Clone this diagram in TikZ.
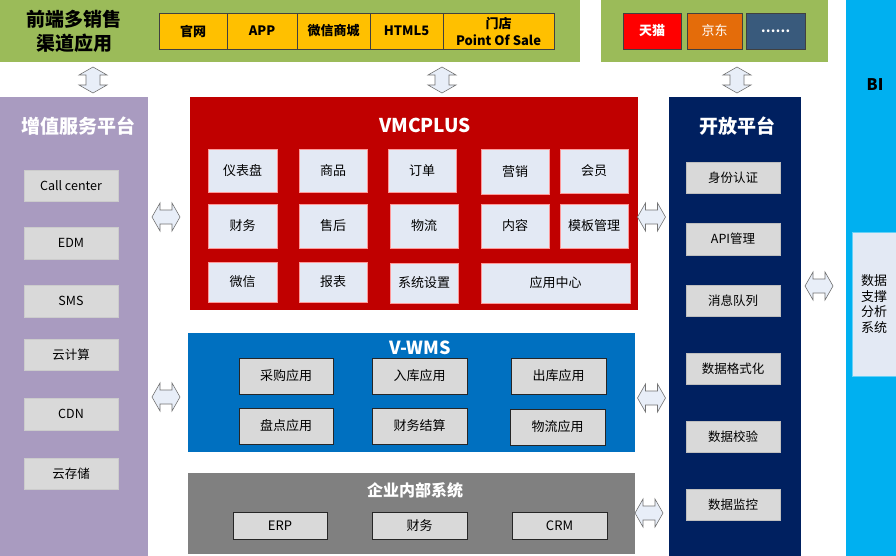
\documentclass[tikz,border=0pt]{standalone}
\usepackage{fontspec}
\setmainfont{Noto Sans CJK SC}
\definecolor{cGreen}{HTML}{9BBB59}
\definecolor{cYellow}{HTML}{FFC000}
\definecolor{cPurple}{HTML}{A99BC0}
\definecolor{cRed}{HTML}{C00000}
\definecolor{cLight}{HTML}{E3E9F4}
\definecolor{cBlue}{HTML}{0070C0}
\definecolor{cGray}{HTML}{808080}
\definecolor{cNavy}{HTML}{002060}
\definecolor{cBI}{HTML}{00B0F0}
\definecolor{cBox}{HTML}{D9D9D9}
\definecolor{cTmall}{HTML}{FF0000}
\definecolor{cJD}{HTML}{E46C0A}
\definecolor{cMore}{HTML}{395A7C}
\definecolor{cArrow}{HTML}{E8EEF8}
\tikzset{
  panel/.style={draw=none, inner sep=0pt, outer sep=0pt},
  ptitle/.style={text=white, font=\fontsize{19}{22}\selectfont\bfseries, inner sep=0pt},
  tagbox/.style={draw=black!75, line width=0.8pt, inner sep=0pt, outer sep=0pt, align=center, minimum height=36pt, font=\fontsize{13}{17}\selectfont\bfseries},
  vbox/.style={draw=red!40, line width=0.6pt, fill=cLight, inner sep=0pt, outer sep=0pt, align=center, font=\fontsize{13}{16}\selectfont},
  sbox/.style={draw=black!55, line width=0.4pt, fill=cBox, inner sep=0pt, outer sep=0pt, align=center, minimum width=94pt, font=\fontsize{12.5}{16}\selectfont},
  wbox/.style={draw=black!85, line width=0.8pt, fill=cBox, inner sep=0pt, outer sep=0pt, align=center, minimum width=95pt, font=\fontsize{13}{16}\selectfont},
  arrowline/.style={draw=black!55, fill=cArrow, line width=0.6pt, line join=miter},
  harrow/.pic={\path[arrowline] (-14,0) -- (-6,-14) -- (-6,-7) -- (6,-7) -- (6,-14) -- (14,0) -- (6,14) -- (6,7) -- (-6,7) -- (-6,14) -- cycle;},
  varrow/.pic={\path[arrowline] (0,-13) -- (14,-5) -- (7,-5) -- (7,5) -- (14,5) -- (0,13) -- (-14,5) -- (-7,5) -- (-7,-5) -- (-14,-5) -- cycle;}
}
\begin{document}
\begin{tikzpicture}[x=1pt,y=-1pt]
\useasboundingbox (0,0) rectangle (896,556);
\fill[white] (0,0) rectangle (896,556);
% top green bands
\fill[cGreen] (0,0) rectangle (580,62);
\fill[cGreen] (601,0) rectangle (828,62);
\node[font=\fontsize{19}{24}\selectfont\bfseries, align=center, inner sep=0pt] (front) at (74,31) {前端多销售\\渠道应用};
\node[tagbox, fill=cYellow, minimum width=68pt] (gw) at (193,31) {官网};
\node[tagbox, fill=cYellow, minimum width=70pt] (app) at (262,31) {APP};
\node[tagbox, fill=cYellow, minimum width=73pt] (wxsc) at (333.5,31) {微信商城};
\node[tagbox, fill=cYellow, minimum width=73pt] (h5) at (406.5,31) {HTML5};
\node[tagbox, fill=cYellow, minimum width=111pt, font=\fontsize{13}{17}\selectfont\bfseries] (pos) at (498.5,31) {门店\\Point Of Sale};
\node[tagbox, fill=cTmall, text=white, minimum width=58pt] (tm) at (652,31) {天猫};
\node[tagbox, fill=cJD, text=white, minimum width=55pt, font=\fontsize{13}{17}\selectfont] (jd) at (714.5,31) {京东};
\node[tagbox, fill=cMore, text=white, minimum width=59pt, font=\fontsize{13}{17}\selectfont\bfseries] (more) at (775.5,31) {……};
% BI band
\fill[cBI] (846,0) rectangle (896,556);
\node[font=\fontsize{16}{20}\selectfont\bfseries, inner sep=0pt] (bi) at (875,85) {BI};
\node[draw=cBI!60!white, fill=cLight, minimum width=44pt, minimum height=144pt, inner sep=0pt, align=center, font=\fontsize{13}{15.5}\selectfont] (bisys) at (874,304) {数据\\支撑\\分析\\系统};
% left purple panel
\fill[cPurple] (0,97) rectangle (148,556);
\node[ptitle] (zz) at (78,126) {增值服务平台};
\node[sbox, draw=black!20, minimum height=31pt] (cc) at (71,185.5) {Call center};
\node[sbox, draw=black!20, minimum height=32pt] (edm) at (71,243) {EDM};
\node[sbox, draw=black!20, minimum height=32pt] (sms) at (71,301) {SMS};
\node[sbox, draw=black!20, minimum height=31pt] (yjs) at (71,354.5) {云计算};
\node[sbox, draw=black!20, minimum height=32pt] (cdn) at (71,414) {CDN};
\node[sbox, draw=black!20, minimum height=31pt] (ycc) at (71,473.5) {云存储};
% VMCPLUS
\fill[cRed] (190,97) rectangle (638,310);
\node[ptitle] (vmc) at (425,125) {VMCPLUS};
\node[vbox, minimum width=69pt, minimum height=43pt] (ybp) at (242.5,170.5) {仪表盘};
\node[vbox, minimum width=68pt, minimum height=43pt] (sp) at (333,170.5) {商品};
\node[vbox, minimum width=68pt, minimum height=43pt] (dd) at (422,170.5) {订单};
\node[vbox, minimum width=68pt, minimum height=45pt] (yx) at (515,171.5) {营销};
\node[vbox, minimum width=68pt, minimum height=44pt] (hy) at (594,171) {会员};
\node[vbox, minimum width=69pt, minimum height=44pt] (cw) at (242.5,226) {财务};
\node[vbox, minimum width=68pt, minimum height=44pt] (sh) at (333,226) {售后};
\node[vbox, minimum width=68pt, minimum height=44pt] (wl) at (424,226) {物流};
\node[vbox, minimum width=68pt, minimum height=44pt] (nr) at (515,226) {内容};
\node[vbox, minimum width=68pt, minimum height=44pt] (mb) at (594,226) {模板管理};
\node[vbox, minimum width=69pt, minimum height=40pt] (wx) at (242.5,282) {微信};
\node[vbox, minimum width=68pt, minimum height=40pt] (bb) at (333,282) {报表};
\node[vbox, minimum width=68pt, minimum height=40pt] (xt) at (424,283) {系统设置};
\node[vbox, minimum width=149pt, minimum height=40pt] (yyzx) at (555.5,283) {应用中心};
% V-WMS
\fill[cBlue] (188,333) rectangle (635,452);
\node[ptitle, font=\fontsize{18}{20}\selectfont\bfseries] (wms) at (420,348) {V-WMS};
\node[wbox, minimum width=94pt, minimum height=36pt] (cg) at (286,376) {采购应用};
\node[wbox, minimum height=36pt] (rk) at (419.5,376) {入库应用};
\node[wbox, minimum height=36pt] (ck) at (558.5,376) {出库应用};
\node[wbox, minimum width=94pt, minimum height=36pt] (pd) at (286,426) {盘点应用};
\node[wbox, minimum height=36pt] (cwjs) at (419.5,426) {财务结算};
\node[wbox, minimum height=36pt] (wlyy) at (557.5,427) {物流应用};
% enterprise internal
\fill[cGray] (188,473) rectangle (635,554);
\node[ptitle, font=\fontsize{16}{20}\selectfont\bfseries] (qy) at (415,490) {企业内部系统};
\node[wbox, minimum width=94pt, minimum height=27pt] (erp) at (280,525.5) {ERP};
\node[wbox, minimum height=27pt] (cw2) at (419.5,525.5) {财务};
\node[wbox, minimum height=27pt] (crm) at (559.5,525.5) {CRM};
% open platform
\fill[cNavy] (669,97) rectangle (801,556);
\node[ptitle] (kf) at (737,126) {开放平台};
\node[sbox, draw=black!25, minimum height=31pt] (sf) at (733,177.5) {身份认证};
\node[sbox, draw=black!25, minimum height=32pt] (api) at (733,239) {API管理};
\node[sbox, draw=black!25, minimum height=31pt] (xx) at (733,300.5) {消息队列};
\node[sbox, draw=black!25, minimum height=31pt] (gsh) at (733,368.5) {数据格式化};
\node[sbox, draw=black!25, minimum height=31pt] (jy) at (733,436.5) {数据校验};
\node[sbox, draw=black!25, minimum height=31pt] (jk) at (733,504.5) {数据监控};
% block arrows
\pic at (93,80) {varrow};
\pic at (442,80) {varrow};
\pic at (737,80) {varrow};
\pic at (166,217) {harrow};
\pic at (166,397) {harrow};
\pic at (651.5,217) {harrow};
\pic at (651.5,398) {harrow};
\pic at (649,513) {harrow};
\pic at (819,286) {harrow};
\end{tikzpicture}
\end{document}
